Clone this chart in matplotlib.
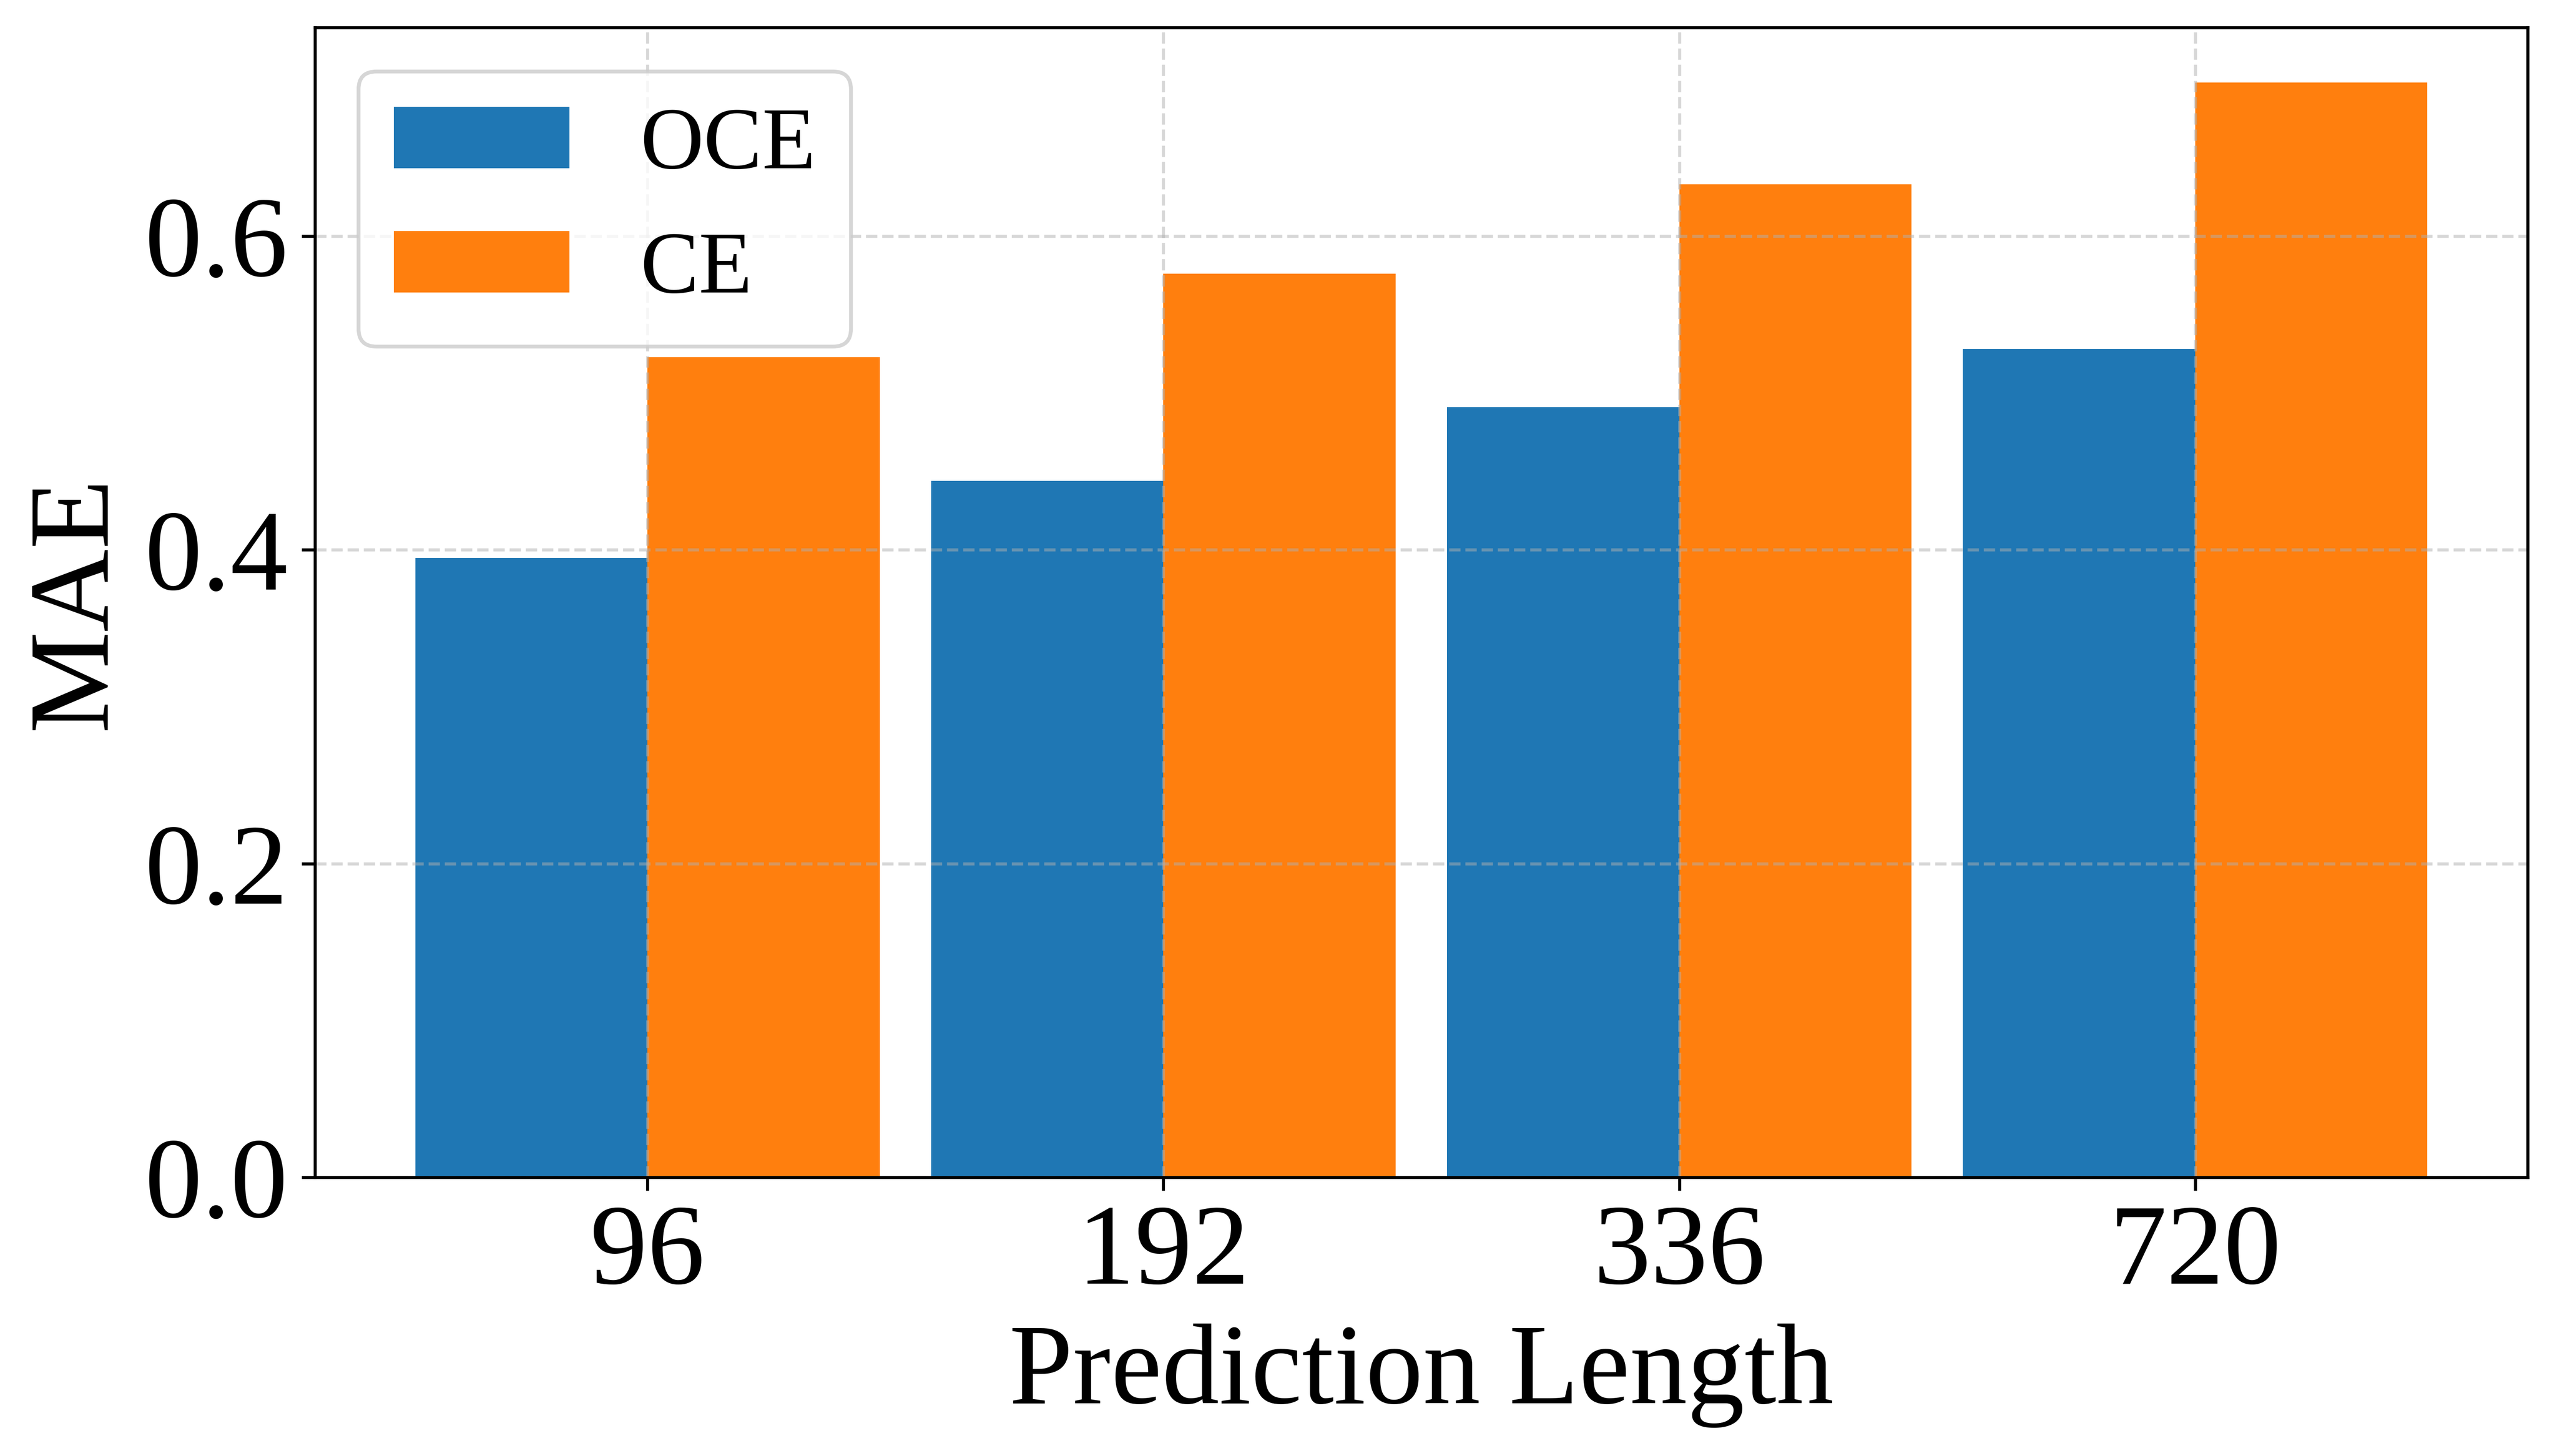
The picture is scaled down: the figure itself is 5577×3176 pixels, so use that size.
import matplotlib
matplotlib.use('Agg')
import matplotlib.pyplot as plt
import numpy as np

plt.rcParams['font.family'] = ['Liberation Serif', 'DejaVu Serif']

lengths = ['96', '192', '336', '720']
oce = [0.395, 0.444, 0.491, 0.528]
ce = [0.523, 0.576, 0.633, 0.698]

x = np.arange(len(lengths))
width = 0.45

fig = plt.figure(figsize=(5577 / 600, 3176 / 600), dpi=600)
ax = fig.add_axes([0.1231, 0.1914, 0.9886 - 0.1231, 0.981 - 0.1914])

ax.bar(x - width / 2, oce, width, label='OCE', color='#1f77b4')
ax.bar(x + width / 2, ce, width, label='CE', color='#ff7f0e')

ax.set_xticks(x)
ax.set_xticklabels(lengths)
ax.set_yticks([0.0, 0.2, 0.4, 0.6])
ax.tick_params(axis='both', labelsize=30)
ax.set_xlabel('Prediction Length', fontsize=30)
ax.set_ylabel('MAE', fontsize=30)
ax.grid(True, linestyle='--', alpha=0.5)
ax.legend(fontsize=23, loc='upper left')

fig.savefig('out.png', dpi=600)
